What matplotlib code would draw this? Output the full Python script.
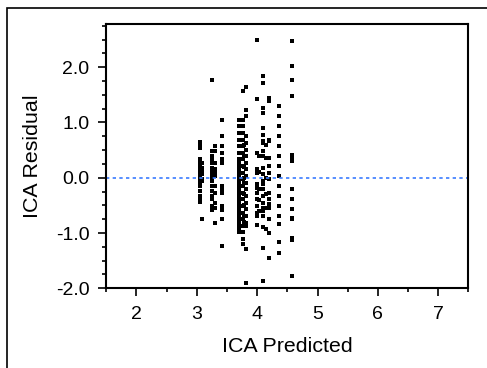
import matplotlib
import numpy as np
from matplotlib import pyplot as plt
from matplotlib.patches import Rectangle
from matplotlib.ticker import FormatStrFormatter, MultipleLocator

matplotlib.use("agg")
plt.rcParams["font.family"] = ["Liberation Sans", "DejaVu Sans"]
plt.rcParams["axes.unicode_minus"] = False

# predicted value of each vertical strip of points
pred_cols = [3.05, 3.09, 3.25, 3.30, 3.42, 3.70, 3.76, 3.79, 3.81,
             3.99, 4.03, 4.09, 4.15, 4.20, 4.36, 4.57]

# residuals
resid_cols = [
    [0.64, 0.59, 0.53, 0.33, 0.27, 0.21, 0.15, 0.10, 0.04, -0.01, -0.08,
     -0.15, -0.24, -0.33, -0.39, -0.44],
    [0.27, 0.18, 0.12, 0.06, -0.03, -0.06, -0.75],
    [1.76, 0.48, 0.39, 0.32, 0.26, 0.18, 0.12, 0.06, 0.0, -0.06, -0.15,
     -0.24, -0.33, -0.39, -0.51, -0.58],
    [0.57, 0.48, 0.27, 0.15, 0.09, 0.03, -0.15, -0.27, -0.45, -0.54, -0.81],
    [1.04, 0.75, 0.57, 0.45, 0.34, 0.27, -0.15, -0.21, -0.27, -0.51, -0.58,
     -0.75, -1.23],
    [1.05, 0.93, 0.81, 0.69, 0.57, 0.45, 0.33, 0.27, 0.21, 0.15, 0.09, 0.03,
     -0.03, -0.09, -0.15, -0.21, -0.27, -0.33, -0.39, -0.45, -0.51, -0.57,
     -0.63, -0.69, -0.75, -0.81, -0.87, -0.93, -0.98],
    [1.57, 1.05, 0.93, 0.81, 0.69, 0.57, 0.45, 0.33, 0.21, 0.09, -0.03,
     -0.15, -0.27, -0.39, -0.51, -0.63, -0.75, -0.87, -0.99, -1.11, -1.19],
    [0.60, 0.40, 0.20, 0.0, -0.10, -0.30, -0.50, -0.70, -0.80],
    [1.64, 1.23, 1.11, 0.75, 0.63, 0.51, 0.39, 0.27, 0.15, 0.03, -0.09,
     -0.21, -0.33, -0.45, -0.57, -0.69, -0.81, -0.87, -1.29, -1.90],
    [2.50, 1.42, 0.44, 0.15, 0.09, -0.12, -0.18, -0.27, -0.39, -0.51,
     -0.63, -0.69, -0.86],
    [0.40, 0.10, -0.20, -0.40, -0.60],
    [1.84, 1.72, 1.27, 1.17, 0.90, 0.78, 0.66, 0.63, 0.48, 0.39, 0.18, 0.06,
     -0.06, -0.12, -0.21, -0.33, -0.45, -0.54, -0.60, -0.69, -0.90, -1.27,
     -1.87],
    [0.60, 0.35, 0.0, -0.30, -0.55, -0.92],
    [1.45, 1.39, 0.69, 0.66, 0.36, 0.21, 0.09, -0.03, -0.27, -0.39, -0.48,
     -0.54, -0.75, -1.00, -1.45],
    [1.30, 1.12, 0.93, 0.75, 0.57, 0.39, 0.21, 0.03, -0.15, -0.33, -0.51,
     -0.69, -0.84, -1.17, -1.36],
    [2.47, 2.02, 1.76, 1.48, 0.42, 0.36, 0.30, -0.21, -0.39, -0.57, -0.72,
     -0.75, -1.09, -1.12, -1.78],
]

predicted = np.concatenate([[p] * len(r) for p, r in zip(pred_cols, resid_cols)])
residual = np.concatenate(resid_cols)

fig = plt.figure(figsize=(4.87, 3.68), dpi=100)
ax = fig.add_axes([0.218, 0.2166, 0.744, 0.718])

ax.plot(predicted, residual, "s", color="black", markersize=2.5, markeredgewidth=0)
ax.axhline(0, color="#3a7cff", lw=1.2, linestyle=(0, (2, 2)))

ax.set_xlim(1.5, 7.5)
ax.set_ylim(-2.0, 2.78)
ax.xaxis.set_major_locator(MultipleLocator(1))
ax.xaxis.set_minor_locator(MultipleLocator(0.5))
ax.yaxis.set_major_locator(MultipleLocator(1))
ax.yaxis.set_minor_locator(MultipleLocator(0.25))
ax.yaxis.set_major_formatter(FormatStrFormatter("%.1f"))

for s in ax.spines.values():
    s.set_linewidth(1.5)
ax.tick_params(which="major", length=6, width=1.2, labelsize=14)
ax.tick_params(axis="x", which="major", pad=6.5)
ax.tick_params(axis="y", which="major", pad=6)
ax.tick_params(which="minor", length=3, width=1.2)

ax.set_xlabel("ICA Predicted", fontsize=15.4)
ax.set_ylabel("ICA Residual", fontsize=15.4)
ax.xaxis.set_label_coords(0.5, -0.185)
ax.yaxis.set_label_coords(-0.178, 0.5)

# outer frame, cut off at right and bottom
fig.patches.append(Rectangle((7.3 / 487, -0.1), 1.2, 1.1 - 8.3 / 368,
                             transform=fig.transFigure, fill=False,
                             edgecolor="black", lw=1.2))

fig.savefig("out.png", dpi=100)
